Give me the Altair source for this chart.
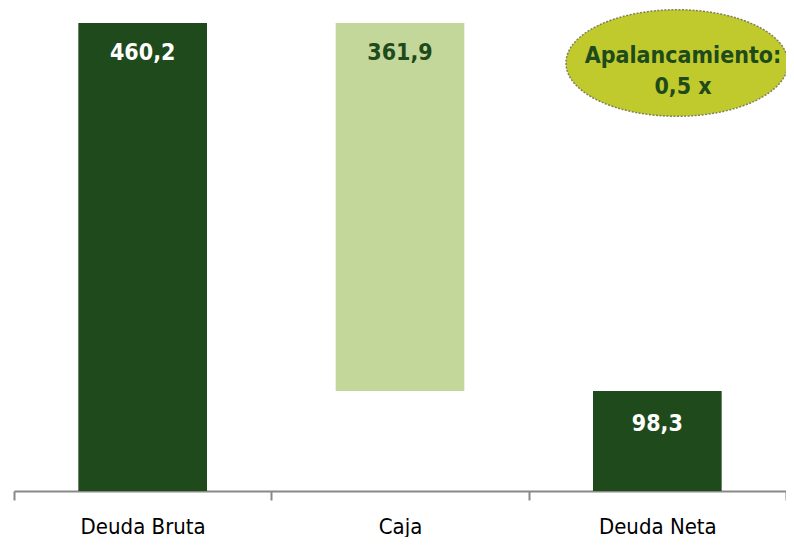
import altair as alt
import pandas as pd

categories = ["Deuda Bruta", "Caja", "Deuda Neta"]
bar_start = [0.0, 98.3, 0.0]
bar_end = [460.2, 460.2, 98.3]
values = [460.2, 361.9, 98.3]
labels = ["460,2", "361,9", "98,3"]
bar_colors = ["#1F4A1C", "#C4D79B", "#1F4A1C"]
label_colors = ["#FFFFFF", "#1F4A1C", "#FFFFFF"]
label_offsets = [30, 30, 33]
note_text = ["Apalancamiento:", "0,5 x"]

df = pd.DataFrame({
    "cat": categories,
    "start": bar_start,
    "end": bar_end,
    "value": values,
    "label": labels,
    "bar_color": bar_colors,
    "label_color": label_colors,
    "dy": label_offsets,
})

FONT = "Liberation Sans Narrow, Arial Narrow, DejaVu Sans Condensed, sans-serif"

x = alt.X("cat:N", sort=categories, title=None,
          scale=alt.Scale(paddingInner=0, paddingOuter=0),
          axis=alt.Axis(labelAngle=0, labelFont=FONT, labelFontSize=22,
                        labelColor="#000000", labelPadding=16,
                        domainColor="#888888", domainWidth=2,
                        tickColor="#888888", tickWidth=2, tickSize=9,
                        tickBand="extent", grid=False))
yscale = alt.Scale(domain=[0, 469], nice=False, zero=True)

bars = alt.Chart(df).mark_bar(width={"band": 0.5}).encode(
    x=x,
    y=alt.Y("end:Q", scale=yscale, axis=None),
    y2="start:Q",
    color=alt.Color("bar_color:N", scale=None),
)

texts = []
for i in range(len(categories)):
    t = alt.Chart(df.iloc[[i]]).mark_text(
        font=FONT, fontSize=23, fontWeight="bold", baseline="middle",
        dy=label_offsets[i], color=label_colors[i]
    ).encode(
        x=alt.X("cat:N", sort=categories),
        y=alt.Y("end:Q", scale=yscale),
        text="label:N",
    )
    texts.append(t)

ellipse_path = "M -1 0 A 1 0.48 0 1 0 1 0 A 1 0.48 0 1 0 -1 0 Z"
note_df = pd.DataFrame({"t": [note_text]})
ellipse = alt.Chart(note_df).mark_point(
    shape=ellipse_path, filled=True, fill="#C0CA2C", opacity=1,
    stroke="#7F7F5A", strokeWidth=1.5, strokeDash=[2, 1.5], size=49284
).encode(x=alt.value(663), y=alt.value(49))

note = alt.Chart(note_df).mark_text(
    font=FONT, fontSize=23, fontWeight="bold", color="#1F4A1C",
    lineHeight=31, baseline="middle", align="center", dy=-15
).encode(x=alt.value(669), y=alt.value(57), text="t")

chart = alt.layer(bars, *texts, ellipse, note).properties(
    width=772, height=477,
    autosize=alt.AutoSizeParams(type="none"),
    padding={"left": 6, "top": 6, "right": 0, "bottom": 46},
    background="#FFFFFF",
).configure_view(stroke=None)

chart.save("out.html", embed_options={"renderer": "svg", "actions": False})
